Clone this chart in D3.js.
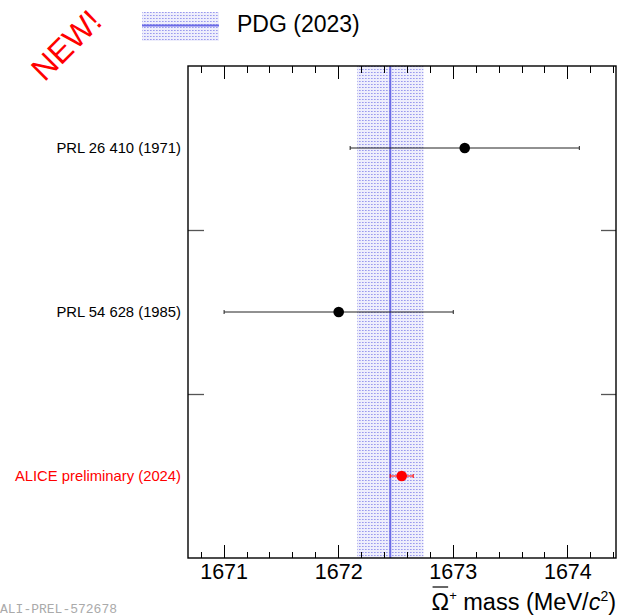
<!DOCTYPE html>
<meta charset="utf-8">
<style>
body { margin: 0; background: #fff; }
svg { font-family: "Liberation Sans", Arial, sans-serif; }
.frame { fill: none; stroke: #000; stroke-width: 1.4px; }
.tick-line { stroke: #000; stroke-width: 1px; shape-rendering: crispEdges; }
</style>
<body>
<div id="chart"></div>
<script src="https://d3js.org/d3.v7.min.js"></script>
<script>
// measurements, top to bottom
var labels = ["PRL 26 410 (1971)", "PRL 54 628 (1985)", "ALICE preliminary (2024)"];
var masses = [1673.1, 1672.0, 1672.55];
var errors = [1.0, 1.0, 0.1];
var colors = ["#000", "#000", "#f00"];
// PDG (2023) world average
var pdgMass = 1672.45;
var pdgErr = 0.29;
var xTicks = [1671, 1672, 1673, 1674];

var W = 617, H = 616,
    margin = {top: 66, right: 1, bottom: 58, left: 188},
    width = W - margin.left - margin.right,
    height = H - margin.top - margin.bottom;

var svg = d3.select("#chart").append("svg")
    .attr("width", W)
    .attr("height", H);

var defs = svg.append("defs");
var pat = defs.append("pattern")
    .attr("id", "dots")
    .attr("width", 3).attr("height", 3)
    .attr("patternUnits", "userSpaceOnUse");
pat.append("rect").attr("width", 3).attr("height", 3).attr("fill", "#eeeefc");
pat.append("rect").attr("width", 1).attr("height", 1).attr("fill", "#9a9aee");
pat.append("rect").attr("x", 1).attr("width", 1).attr("height", 1).attr("fill", "#b8b8f2");

var x = d3.scaleLinear().domain([1670.685, 1674.42]).range([0, width]);
var y = d3.scaleBand().domain(labels).range([0, height]);

var g = svg.append("g")
    .attr("transform", "translate(" + margin.left + "," + margin.top + ")");

// PDG band and line
g.append("rect")
    .attr("x", x(pdgMass - pdgErr))
    .attr("y", 0)
    .attr("width", x(pdgMass + pdgErr) - x(pdgMass - pdgErr))
    .attr("height", height)
    .attr("fill", "url(#dots)");
g.append("line")
    .attr("x1", x(pdgMass)).attr("x2", x(pdgMass))
    .attr("y1", 0).attr("y2", height)
    .attr("stroke", "#6a6ae6").attr("stroke-width", 2);

// x ticks, top and bottom, pointing inwards
var minor = d3.range(1670.8, 1674.41, 0.2).map(function(d) { return +d.toFixed(1); });
minor.forEach(function(v) {
  var major = Math.abs(v - Math.round(v)) < 1e-6;
  var len = major ? 13 : 6.5;
  g.append("line").attr("class", "tick-line")
      .attr("x1", x(v)).attr("x2", x(v)).attr("y1", height).attr("y2", height - len);
  g.append("line").attr("class", "tick-line")
      .attr("x1", x(v)).attr("x2", x(v)).attr("y1", 0).attr("y2", len);
});

// x tick labels
g.selectAll(".xlab")
    .data(xTicks)
  .enter().append("text")
    .attr("class", "xlab")
    .attr("x", function(d) { return x(d); })
    .attr("y", height + 21)
    .attr("text-anchor", "middle")
    .style("font-size", "21.5px")
    .text(function(d) { return d; });

// y separators on both sides
labels.slice(1).forEach(function(l) {
  var yy = Math.round(y(l)) + 0.5;
  g.append("line").attr("stroke", "#555").attr("stroke-width", 1.3)
      .attr("x1", 0).attr("x2", 16).attr("y1", yy).attr("y2", yy);
  g.append("line").attr("stroke", "#555").attr("stroke-width", 1.3)
      .attr("x1", width - 15).attr("x2", width).attr("y1", yy).attr("y2", yy);
});

// frame
g.append("rect").attr("class", "frame")
    .attr("width", width).attr("height", height);

// error bars and points
var pts = g.selectAll(".pt")
    .data(labels)
  .enter().append("g")
    .attr("class", "pt")
    .attr("transform", function(d) { return "translate(0," + (y(d) + y.bandwidth() / 2) + ")"; });

pts.append("line")
    .attr("x1", function(d, i) { return x(masses[i] - errors[i]); })
    .attr("x2", function(d, i) { return x(masses[i] + errors[i]); })
    .attr("stroke", function(d, i) { return i == 2 ? "#f00" : "#222"; })
    .attr("stroke-width", 1);
[-1, 1].forEach(function(s) {
  pts.append("line")
      .attr("x1", function(d, i) { return x(masses[i] + s * errors[i]); })
      .attr("x2", function(d, i) { return x(masses[i] + s * errors[i]); })
      .attr("y1", -2).attr("y2", 2)
      .attr("stroke", function(d, i) { return i == 2 ? "#f00" : "#222"; })
      .attr("stroke-width", 1);
});
pts.append("circle")
    .attr("cx", function(d, i) { return x(masses[i]); })
    .attr("r", 5.3)
    .attr("fill", function(d, i) { return colors[i]; });

// category labels
pts.append("text")
    .attr("x", -7)
    .attr("dy", "0.35em")
    .attr("text-anchor", "end")
    .style("font-size", "14.8px")
    .attr("fill", function(d, i) { return colors[i]; })
    .text(function(d) { return d; });

// x axis title
var title = svg.append("text")
    .attr("x", 616)
    .attr("y", 610)
    .attr("text-anchor", "end")
    .style("font-size", "23.5px");
var omega = title.append("tspan").text("\u03A9");
title.append("tspan").attr("dy", -10).style("font-size", "13px").text("+");
title.append("tspan").attr("dy", 10).text(" mass (MeV/");
title.append("tspan").style("font-style", "italic").text("c");
title.append("tspan").attr("dy", -9).style("font-size", "14px").text("2");
title.append("tspan").attr("dy", 9).text(")");
// overline on Omega
var ob = omega.node().getExtentOfChar(0);
svg.append("line")
    .attr("x1", ob.x + 1).attr("x2", ob.x + ob.width - 1)
    .attr("y1", 587).attr("y2", 587)
    .attr("stroke", "#000").attr("stroke-width", 1.2);

// legend
svg.append("rect")
    .attr("x", 142).attr("y", 12).attr("width", 77).attr("height", 29)
    .attr("fill", "url(#dots)");
svg.append("line")
    .attr("x1", 142).attr("x2", 219).attr("y1", 25.5).attr("y2", 25.5)
    .attr("stroke", "#6a6ae6").attr("stroke-width", 2);
svg.append("text")
    .attr("x", 237).attr("y", 32)
    .style("font-size", "23px")
    .text("PDG (2023)");

// NEW! stamp
svg.append("text")
    .attr("transform", "translate(66,45) rotate(-45)")
    .attr("text-anchor", "middle")
    .attr("dy", "0.35em")
    .attr("fill", "#f00")
    .style("font-size", "32px")
    .text("NEW!");

// figure id
svg.append("text")
    .attr("x", 0).attr("y", 613)
    .attr("fill", "#aaa")
    .style("font-family", "'Liberation Mono', monospace")
    .style("font-size", "13px")
    .text("ALI-PREL-572678");
</script>
